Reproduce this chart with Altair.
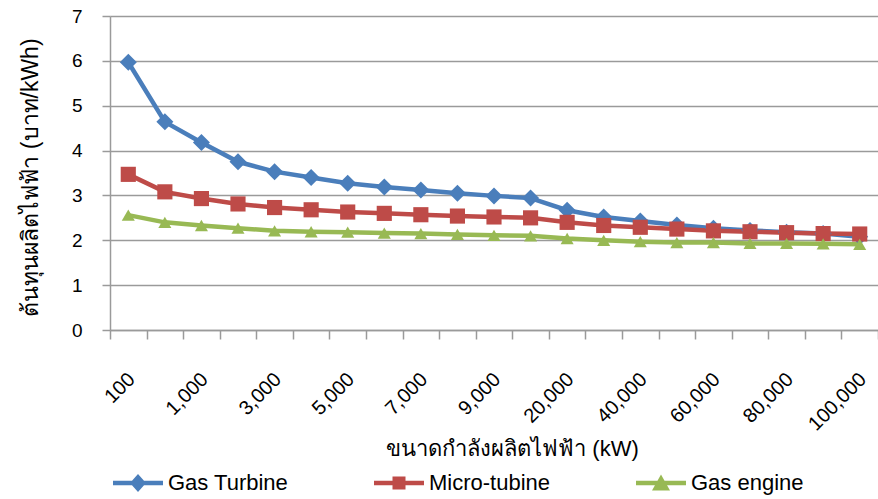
import json

import altair as alt
import pandas as pd

# Plant capacity categories (kW) along the x axis
sizes = [
    "100", "500", "1,000", "2,000", "3,000", "4,000", "5,000", "6,000",
    "7,000", "8,000", "9,000", "10,000", "20,000", "30,000", "40,000",
    "50,000", "60,000", "70,000", "80,000", "90,000", "100,000",
]
# only every second category carries a printed label
shown_labels = sizes[::2]

# Generation cost (baht/kWh) for each technology
gas_turbine = [5.97, 4.64, 4.18, 3.75, 3.53, 3.40, 3.27, 3.19, 3.12, 3.05, 2.99,
               2.94, 2.67, 2.52, 2.43, 2.34, 2.27, 2.22, 2.18, 2.15, 2.08]
micro_tubine = [3.47, 3.08, 2.93, 2.81, 2.73, 2.68, 2.63, 2.60, 2.57, 2.54, 2.52,
                2.50, 2.40, 2.33, 2.29, 2.25, 2.21, 2.19, 2.17, 2.15, 2.14]
gas_engine = [2.56, 2.40, 2.33, 2.27, 2.21, 2.19, 2.18, 2.16, 2.15, 2.13, 2.11,
              2.10, 2.04, 2.00, 1.97, 1.95, 1.95, 1.93, 1.93, 1.92, 1.91]

series_names = ["Gas Turbine", "Micro-tubine", "Gas engine"]
series_values = [gas_turbine, micro_tubine, gas_engine]
series_colors = ["#4A7EBB", "#BE4B48", "#98B954"]
marker_shapes = ["diamond", "square", "triangle-up"]
marker_sizes = [289, 170, 324]

rows = []
for name, values in zip(series_names, series_values):
    for size, cost in zip(sizes, values):
        rows.append({"size": size, "cost": cost, "series": name})
df = pd.DataFrame(rows)

FONT = "Liberation Sans, Arial, Noto Sans, DejaVu Sans, sans-serif"
GRAY = "#9a9a9a"

# Legend swatches: a horizontal line segment with the series marker on top
line_path = "M-1,-0.09L1,-0.09L1,0.09L-1,0.09Z"
legend_swatches = [
    line_path + "M0,-0.36L0.32,0L0,0.36L-0.32,0Z",
    line_path + "M-0.26,-0.26L0.26,-0.26L0.26,0.26L-0.26,0.26Z",
    line_path + "M0,-0.34L0.36,0.30L-0.36,0.30Z",
]

x_enc = alt.X(
    "size:N",
    sort=sizes,
    scale=alt.Scale(type="band", paddingInner=0, paddingOuter=0),
    axis=alt.Axis(
        title="ขนาดกำลังผลิตไฟฟ้า (kW)",
        titleFont=FONT,
        titleFontSize=22,
        titleFontWeight="normal",
        titleColor="#000000",
        titleX=402,
        titleY=118,
        titleBaseline="middle",
        titleAlign="center",
        tickBand="extent",
        tickSize=9,
        tickColor=GRAY,
        tickWidth=1.5,
        domainColor=GRAY,
        domainWidth=1.5,
        labelAngle=315,
        labelAlign="right",
        labelBaseline="middle",
        labelPadding=37,
        labelOffset=3,
        labelFont=FONT,
        labelFontSize=20,
        labelColor="#000000",
        labelOverlap=False,
        labelExpr=f"indexof({json.dumps(shown_labels)}, datum.value) >= 0 ? datum.value : ''",
        grid=False,
    ),
)

y_enc = alt.Y(
    "cost:Q",
    scale=alt.Scale(domain=[0, 7], nice=False, zero=True),
    axis=alt.Axis(
        title="ต้นทุนผลิตไฟฟ้า (บาท/kWh)",
        titleFont=FONT,
        titleFontSize=23,
        titleFontWeight="normal",
        titleColor="#000000",
        titleX=-80,
        titleY=161,
        titleAngle=270,
        titleBaseline="middle",
        titleAlign="center",
        values=[0, 1, 2, 3, 4, 5, 6, 7],
        format="d",
        tickSize=8,
        tickColor=GRAY,
        tickWidth=1.5,
        domainColor=GRAY,
        domainWidth=1.5,
        gridColor=GRAY,
        gridWidth=1.5,
        labelPadding=20,
        labelFont=FONT,
        labelFontSize=19,
        labelColor="#000000",
    ),
)


def color_enc(legend):
    return alt.Color(
        "series:N",
        scale=alt.Scale(domain=series_names, range=series_colors),
        legend=legend,
    )


lines = alt.Chart(df).mark_line(strokeWidth=4.5).encode(
    x=x_enc,
    y=y_enc,
    color=color_enc(None),
    detail="series:N",
)

points = alt.Chart(df).mark_point(filled=True, opacity=1).encode(
    x=x_enc,
    y=y_enc,
    color=color_enc(None),
    shape=alt.Shape(
        "series:N",
        scale=alt.Scale(domain=series_names, range=marker_shapes),
        legend=None,
    ),
    size=alt.Size(
        "series:O",
        scale=alt.Scale(domain=series_names, range=marker_sizes),
        legend=None,
    ),
)

legend_props = dict(
    title=None,
    orient="none",
    direction="horizontal",
    columns=3,
    legendX=3,
    legendY=442,
    padding=0,
    symbolSize=2500,
    symbolStrokeWidth=0,
    symbolOpacity=1,
    labelOffset=5,
    columnPadding=85,
    labelFont=FONT,
    labelFontSize=22,
    labelColor="#000000",
    labelLimit=400,
)

# Layer that draws nothing in the plot; it only carries the legend
legend_layer = (
    alt.Chart(df)
    .transform_filter("false")
    .mark_point(filled=True, opacity=1)
    .encode(
        x=x_enc,
        y=y_enc,
        color=color_enc(alt.Legend(**legend_props)),
        shape=alt.Shape(
            "series:N",
            scale=alt.Scale(domain=series_names, range=legend_swatches),
            legend=alt.Legend(**legend_props),
        ),
    )
)

chart = (
    alt.layer(lines, points, legend_layer)
    .resolve_scale(shape="independent", color="independent")
    .properties(
        width=768,
        height=314,
        autosize=alt.AutoSizeParams(type="none"),
        padding={"left": 110, "top": 16, "right": 0, "bottom": 169},
        background="white",
    )
    .configure_view(stroke=None)
)

chart.save("out.html", embed_options={"renderer": "svg", "actions": False})
